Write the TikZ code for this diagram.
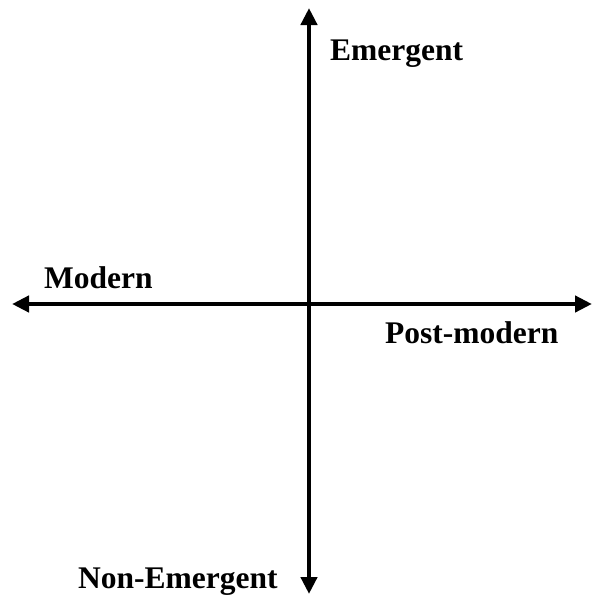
\documentclass[tikz,border=0pt]{standalone}
\usepackage{fontspec}
\setmainfont{Liberation Serif}
\usetikzlibrary{arrows.meta}
\begin{document}
\begin{tikzpicture}[x=1pt,y=-1pt,
  axis/.style={line width=4.8pt,{Triangle[length=17pt,width=16pt]}-{Triangle[length=17pt,width=16pt]}},
  lab/.style={anchor=base west,inner sep=0pt,font=\fontsize{31.5}{33}\selectfont\bfseries}]
\useasboundingbox (0,0) rectangle (592,597);
\coordinate (L) at (12,304);
\coordinate (R) at (592,304);
\coordinate (T) at (309,8);
\coordinate (B) at (309,594);
\draw[axis] (L) -- (R);
\draw[axis] (T) -- (B);
\node[lab] (em) at (330,60) {Emergent};
\node[lab] (mo) at (44,288) {Modern};
\node[lab] (pm) at (385,343) {Post-modern};
\node[lab] (ne) at (78,588) {Non-Emergent};
\end{tikzpicture}
\end{document}
